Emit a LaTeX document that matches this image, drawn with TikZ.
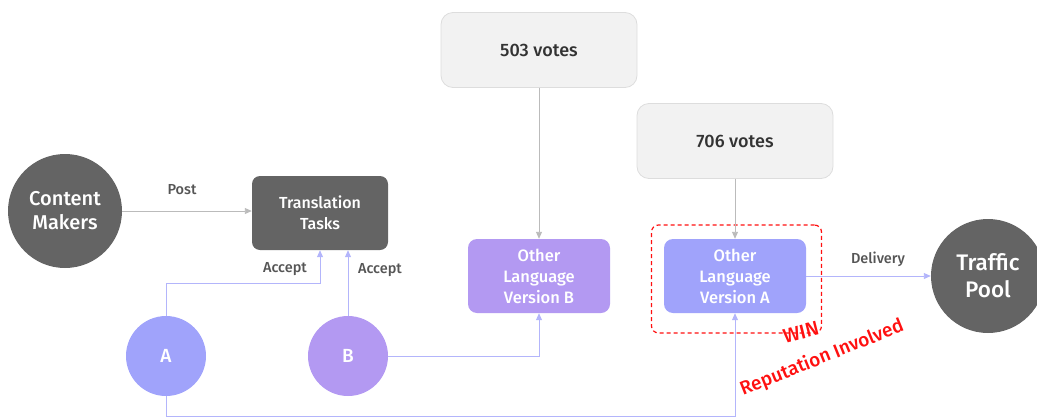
\documentclass[tikz,border=0pt]{standalone}
\usepackage{fontspec}
\setmainfont{Fira Sans}[BoldFont={Fira Sans Medium}]
\usetikzlibrary{arrows.meta}
\definecolor{darkfill}{HTML}{646464}
\definecolor{purpA}{HTML}{A0A3FB}
\definecolor{purpB}{HTML}{B399F2}
\definecolor{voteFill}{HTML}{F2F2F2}
\definecolor{voteLine}{HTML}{DDDDDD}
\definecolor{greyLink}{HTML}{BBBBBB}
\definecolor{lavLink}{HTML}{B3B5FB}
\definecolor{labelText}{HTML}{555555}
\definecolor{winRed}{HTML}{FF1010}
\tikzset{
  darkcircle/.style={circle, fill=darkfill, text=white, minimum size=114pt, inner sep=0pt, align=center, font=\bfseries\fontsize{20}{24}\selectfont},
  darkbox/.style={rectangle, rounded corners=8pt, fill=darkfill, text=white, minimum width=136pt, minimum height=74pt, align=center, font=\bfseries\fontsize{16}{21}\selectfont},
  votebox/.style={rectangle, rounded corners=12pt, fill=voteFill, draw=voteLine, line width=0.8pt, text=black!80, minimum width=196pt, minimum height=75pt, font=\bfseries\fontsize{18}{22}\selectfont},
  versionbox/.style={rectangle, rounded corners=9pt, text=white, minimum width=142pt, minimum height=74pt, align=center, font=\bfseries\fontsize{16.5}{21}\selectfont},
  usercircle/.style={circle, text=white, minimum size=80pt, inner sep=0pt, font=\bfseries\fontsize{19}{22}\selectfont},
  edgelabel/.style={text=labelText, font=\bfseries\fontsize{14.5}{17}\selectfont},
  greyarrow/.style={draw=greyLink, line width=0.9pt, -{Triangle[length=7pt,width=6pt]}},
  lavarrow/.style={draw=lavLink, line width=0.9pt, -{Triangle[length=7pt,width=6pt]}},
  winframe/.style={draw=winRed, line width=1.2pt, dash pattern=on 4pt off 3pt, rounded corners=7pt},
  redtext/.style={text=winRed, inner sep=0pt, font=\bfseries\fontsize{19}{22}\selectfont},
}
\begin{document}
\begin{tikzpicture}[x=1pt, y=-1pt]
\useasboundingbox (0,0) rectangle (1037,418);
\begin{scope}
\clip (0,0) rectangle (1037,418);

% main nodes
\node[darkcircle] (cm) at (65,211) {Content\\Makers};
\node[darkbox] (tt) at (320,213) {Translation\\Tasks};
\node[votebox] (v503) at (539,50) {503 votes};
\node[votebox] (v706) at (735,141) {706 votes};
\node[versionbox, fill=purpB] (vB) at (539,276) {Other\\Language\\Version B};
\node[versionbox, fill=purpA] (vA) at (735,276) {Other\\Language\\Version A};
\node[darkcircle, font=\bfseries\fontsize{22.5}{27}\selectfont] (tp) at (988,276) {Traffic\\Pool};
\node[usercircle, fill=purpA] (ua) at (166,356) {A};
\node[usercircle, fill=purpB] (ub) at (348,356) {B};

% winning version frame
\node[winframe, minimum width=170pt, minimum height=108pt] (win) at (736.5,279) {};

% connectors
\draw[greyarrow] (cm.east) -- (cm.east -| tt.west);
\draw[greyarrow] (v503.south) -- (vB.north);
\draw[greyarrow] (v706.south) -- (vA.north);
\coordinate (acceptA) at (tt.south);
\coordinate (acceptB) at ([xshift=28pt]tt.south);
\draw[lavarrow] (ua.north) |- ([yshift=-33pt]acceptA) -- (acceptA);
\draw[lavarrow] (ub.north -| acceptB) -- (acceptB);
\draw[lavarrow] (ub.east) -| (vB.south);
\coordinate (bottomA) at ([yshift=-20pt]ua.south);
\draw[lavarrow] (ua.south) -- (bottomA) -| (vA.south);
\draw[lavarrow] (vA.east) -- (vA.east -| tp.west);

% labels
\node[edgelabel] (lpost) at (182,190) {Post};
\node[edgelabel] (lacca) at (285,269) {Accept};
\node[edgelabel] (laccb) at (380,270) {Accept};
\node[edgelabel] (ldel) at (878,259) {Delivery};
\node[redtext, rotate=14, font=\bfseries\fontsize{20}{22}\selectfont] (lwin) at (801,332) {WIN};
\node[redtext, rotate=22] (lrep) at (822,358) {Reputation Involved};
\end{scope}
\end{tikzpicture}
\end{document}
